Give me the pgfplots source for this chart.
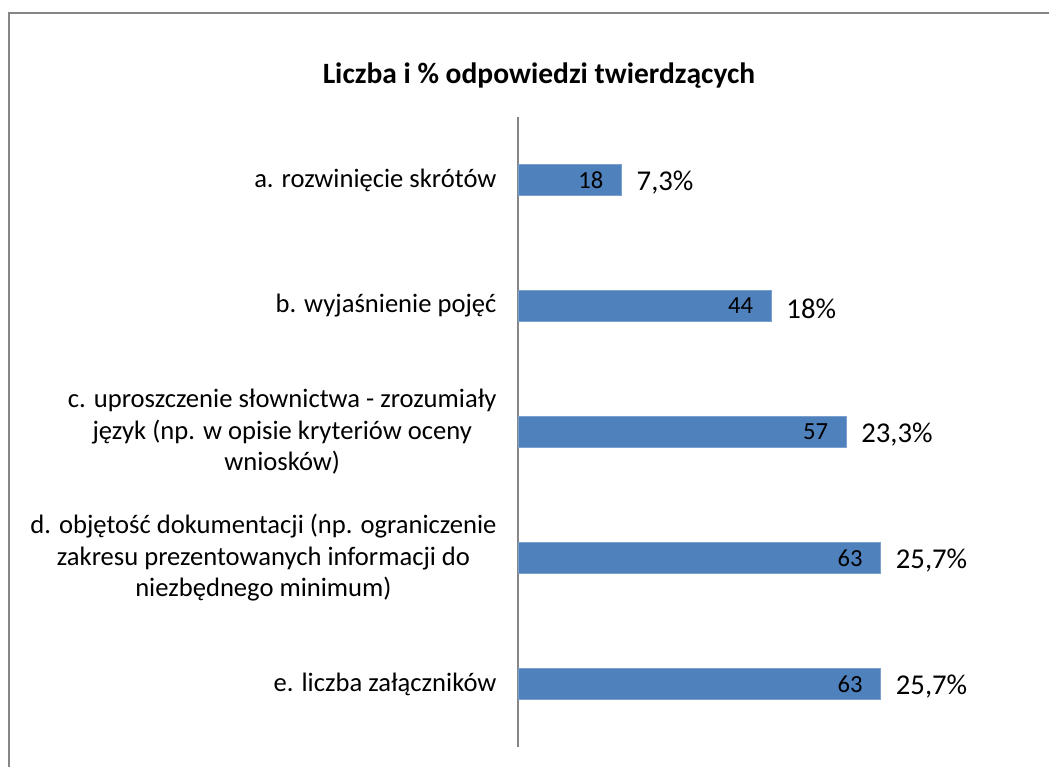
\documentclass[border=0pt]{standalone}
\usepackage{fontspec}
\setmainfont{Carlito}
\usepackage{pgfplots}
\pgfplotsset{compat=1.18}
\usepackage{pgfplotstable}
\definecolor{barblue}{HTML}{4F81BD}
\definecolor{framegray}{HTML}{868686}

% y: position (0 = bottom), v: count, p: percent of answers
\pgfplotstableread{
y v p
0 63 25,7
1 63 25,7
2 57 23,3
3 44 18
4 18 7,3
}\answers

\begin{document}
\begin{tikzpicture}
\useasboundingbox (0,0) rectangle (1049pt,767pt);
\draw[framegray, line width=2pt] (1049pt,754pt) -- (9pt,754pt) -- (9pt,0pt);
\begin{axis}[
    at={(518pt,20pt)}, anchor=south west,
    scale only axis, width=460.8pt, height=630pt,
    xbar, bar shift=0pt, bar width=31.5pt,
    xmin=0, xmax=80, ymin=-0.5, ymax=4.5,
    clip=false,
    /pgf/number format/assume math mode=true,
    axis x line=none,
    axis y line*=left,
    y axis line style={framegray, line width=1.5pt},
    major tick length=0pt,
    ytick={0,1,2,3,4},
    yticklabels={
        {e. liczba załączników},
        {d. objętość dokumentacji (np. ograniczenie\\zakresu prezentowanych informacji do\\niezbędnego minimum)},
        {c. uproszczenie słownictwa - zrozumiały\\język (np. w opisie kryteriów oceny\\wniosków)},
        {b. wyjaśnienie pojęć},
        {a. rozwinięcie skrótów}},
    yticklabel style={align=center, xshift=-18pt,
        font=\fontsize{26.6}{31.5}\selectfont},
]
\addplot[fill=barblue, draw=barblue!75!white, line width=1pt,
    nodes near coords, point meta=x,
    nodes near coords style={anchor=east, xshift=-14.5pt, text=black,
        font=\fontsize{24.6}{28}\selectfont}]
    table[x=v, y=y] {\answers};
\addplot[draw=none, fill=none,
    nodes near coords={\pgfplotspointmeta\%}, point meta=explicit symbolic,
    nodes near coords style={anchor=west, xshift=11.5pt, yshift=-3pt, text=black,
        font=\fontsize{28.7}{32}\selectfont}]
    table[x=v, y=y, meta=p] {\answers};
\end{axis}
\node[font=\bfseries\fontsize{29.5}{34}\selectfont] at (539pt,691pt)
    {Liczba i \% odpowiedzi twierdzących};
\end{tikzpicture}
\end{document}
